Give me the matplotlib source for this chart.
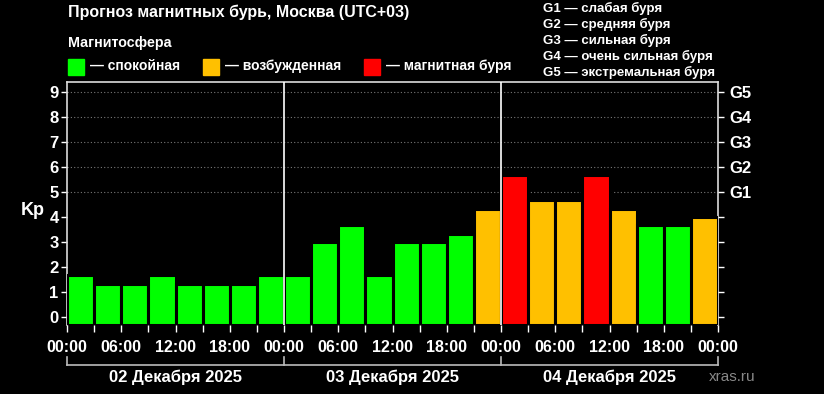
import numpy as np
import matplotlib
matplotlib.use("Agg")
import matplotlib.pyplot as plt
from matplotlib.patches import Rectangle

plt.rcParams['font.family'] = ['Liberation Sans', 'DejaVu Sans']

## 3-hour Kp forecast, 02-04 Dec 2025
hours = np.arange(0, 72, 3)
kp = [1.67, 1.33, 1.33, 1.67, 1.33, 1.33, 1.33, 1.67,
      1.67, 3.00, 3.67, 1.67, 3.00, 3.00, 3.33, 4.33,
      5.67, 4.67, 4.67, 5.67, 4.33, 3.67, 3.67, 4.00]
levels = ['q', 'q', 'q', 'q', 'q', 'q', 'q', 'q',
          'q', 'q', 'q', 'q', 'q', 'q', 'q', 'a',
          's', 'a', 'a', 's', 'a', 'q', 'q', 'a']
level_colors = {'q': '#00ff00', 'a': '#ffc000', 's': '#ff0000'}
level_names = ['— спокойная', '— возбужденная', '— магнитная буря']
days = ['02 Декабря 2025', '03 Декабря 2025', '04 Декабря 2025']
time_labels = ['00:00', '06:00', '12:00', '18:00'] * 3 + ['00:00']
g_labels = ['G1', 'G2', 'G3', 'G4', 'G5']
g_text = ['G1 — слабая буря', 'G2 — средняя буря', 'G3 — сильная буря',
          'G4 — очень сильная буря', 'G5 — экстремальная буря']

W, H = 824, 394
fig = plt.figure(figsize=(W / 100, H / 100), dpi=100, facecolor='black')

def fx(px):
    return px / W

def fy(py):
    return 1 - py / H

ax = fig.add_axes([fx(67), fy(325), fx(718 - 67), (325 - 82) / H])
ax.set_facecolor('black')
ymin, ymax = -0.32, 9.4
ax.set_xlim(0, 72)
ax.set_ylim(ymin, ymax)

cols = [level_colors[l] for l in levels]
ax.bar(hours, np.array(kp) - ymin, bottom=ymin, width=3, align='edge',
       color=cols, edgecolor='black', linewidth=2.2, zorder=3)

for g in range(5, 10):
    ax.axhline(g, color='#777777', linestyle=(0, (1, 2)), linewidth=0.8, zorder=1)
for d in (24, 48):
    ax.axvline(d, color='white', linewidth=1.2, zorder=4)

for s in ['left', 'right', 'top']:
    ax.spines[s].set_color('#dddddd')
    ax.spines[s].set_linewidth(1.2)
ax.spines['bottom'].set_visible(False)

ax.set_yticks(range(10))
ax.set_yticklabels([str(i) for i in range(10)], fontsize=12, fontweight='bold',
                   color='white')
ax.tick_params(axis='y', colors='white', length=4, width=1, pad=2)
ax.set_ylabel('Kp', color='white', fontsize=13, fontweight='bold', rotation=0,
              va='center')
ax.yaxis.set_label_coords(-0.052, 0.47)

ax.set_xticks(range(0, 73, 6))
ax.set_xticklabels(time_labels, fontsize=11.5, fontweight='bold', color='white')
ax.set_xticks(range(0, 73, 3), minor=True)
ax.tick_params(axis='x', which='both', colors='white', length=5, width=1, pad=6)

ax2 = ax.twinx()
ax2.set_ylim(ymin, ymax)
ax2.set_yticks(range(10))
ax2.set_yticklabels([''] * 5 + g_labels, fontsize=12, fontweight='bold',
                    color='white')
ax2.tick_params(axis='y', colors='white', length=4, width=1, pad=4)
for s in ax2.spines.values():
    s.set_visible(False)

## date brackets under the time axis
by = fy(365)
fig.add_artist(plt.Line2D([fx(67), fx(718)], [by, by], color='#bbbbbb', linewidth=1.2))
for px in (67, 284, 501, 718):
    fig.add_artist(plt.Line2D([fx(px), fx(px)], [by, fy(357)], color='#bbbbbb', linewidth=1.2))
for i, day in enumerate(days):
    cx = 67 + (i + 0.5) * (718 - 67) / 3
    fig.text(fx(cx), fy(377), day, color='white', fontsize=12, fontweight='bold',
             ha='center', va='center')
fig.text(fx(709), fy(377), 'xras.ru', color='#888888', fontsize=11, va='center')

## header texts
fig.text(fx(68), fy(12), 'Прогноз магнитных бурь, Москва (UTC+03)', color='white',
         fontsize=11.5, fontweight='bold', va='center')
fig.text(fx(68), fy(43), 'Магнитосфера', color='white', fontsize=10.3,
         fontweight='bold', va='center')
for x0, lev, name in zip((68, 203, 364), ('q', 'a', 's'), level_names):
    fig.add_artist(Rectangle((fx(x0), fy(75)), fx(16), 16 / H,
                             color=level_colors[lev], transform=fig.transFigure))
    fig.text(fx(x0 + 22), fy(66), name, color='white', fontsize=10,
             fontweight='bold', va='center')
for i, t in enumerate(g_text):
    fig.text(fx(543), fy(8 + i * 16), t, color='white', fontsize=9.5,
             fontweight='bold', va='center')

fig.savefig('out.png', dpi=100, facecolor='black')
